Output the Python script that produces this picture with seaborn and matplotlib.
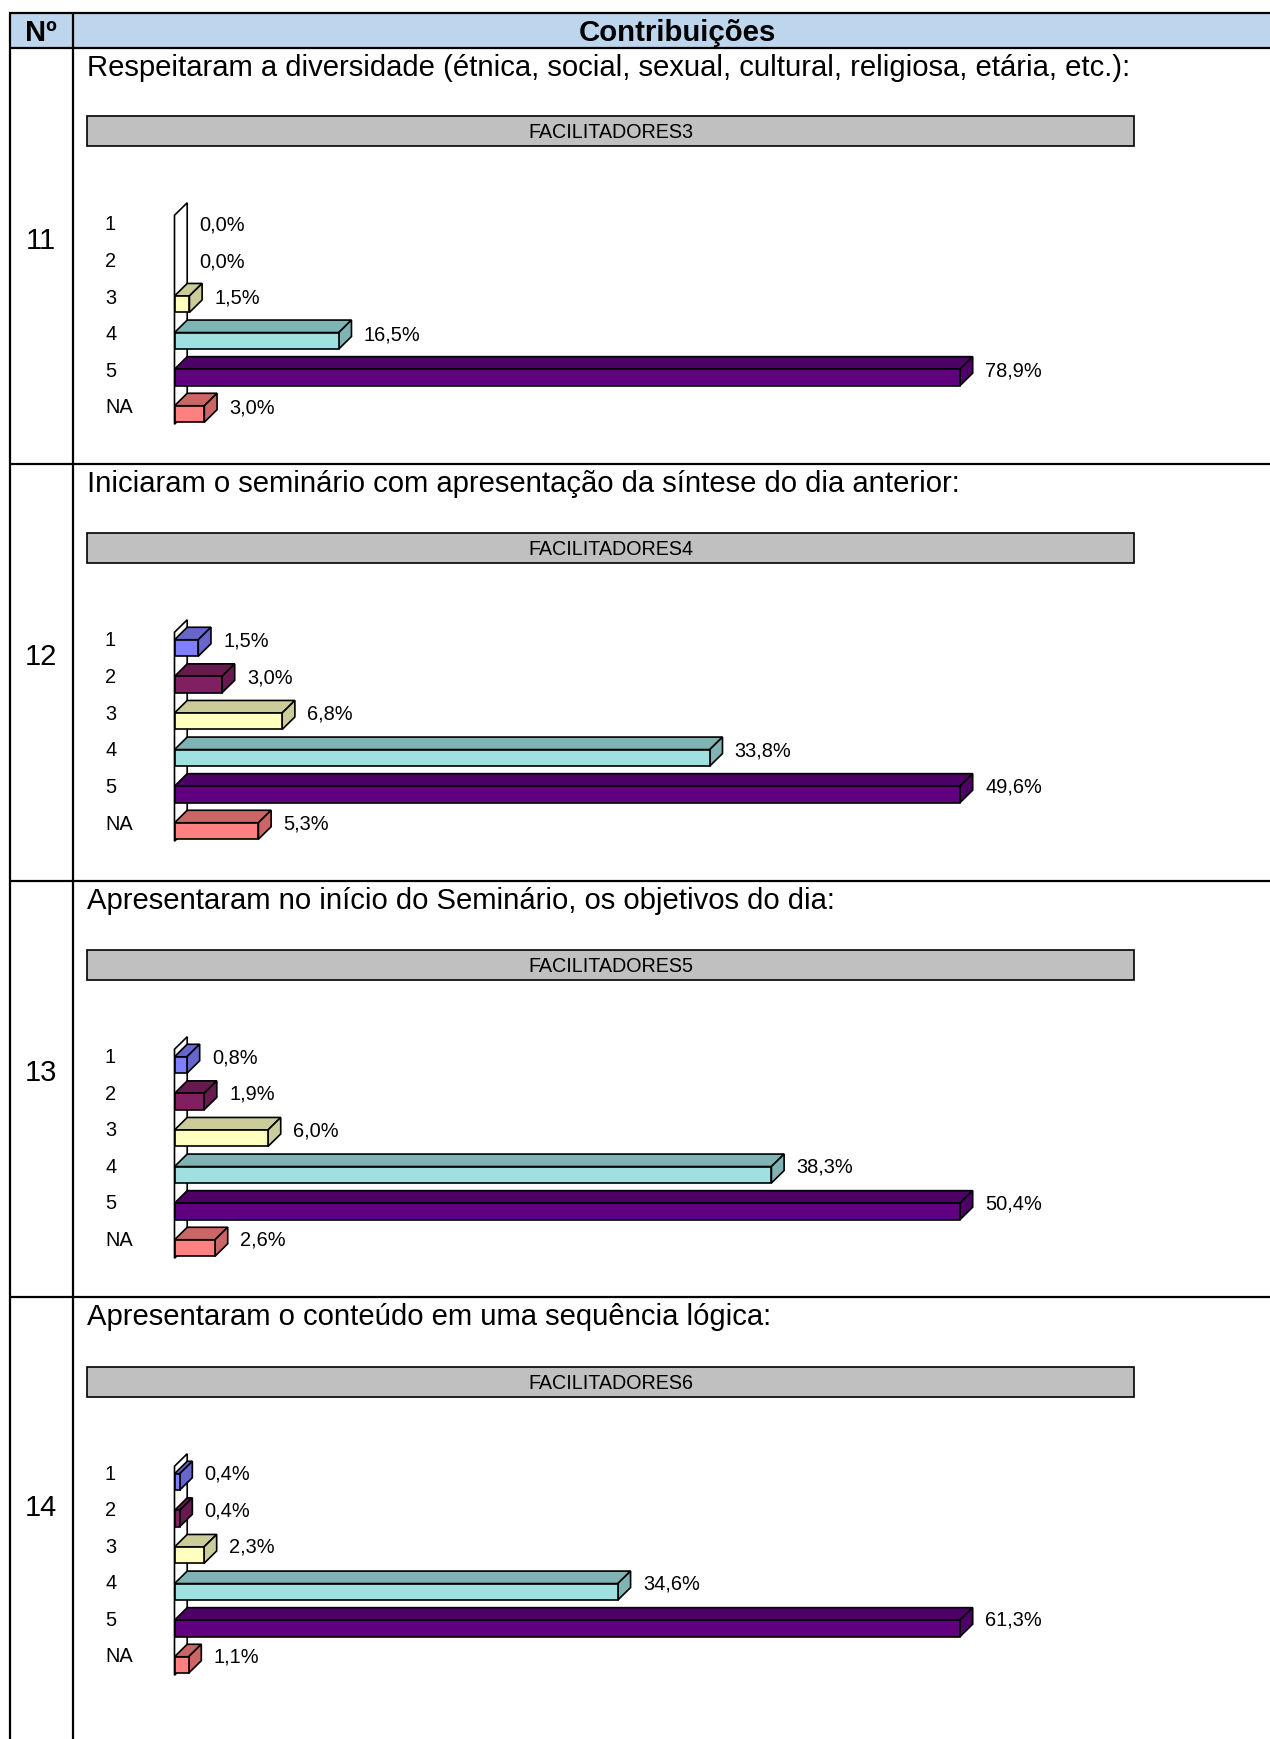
import pandas as pd
import matplotlib
matplotlib.use("Agg")
import matplotlib.pyplot as plt
from matplotlib.patches import Rectangle
import seaborn as sns

# data
categorias = ["1", "2", "3", "4", "5", "NA"]
linhas = ["11", "12", "13", "14"]
perguntas = [
    "Respeitaram a diversidade (étnica, social, sexual, cultural, religiosa, etária, etc.):",
    "Iniciaram o seminário com apresentação da síntese do dia anterior:",
    "Apresentaram no início do Seminário, os objetivos do dia:",
    "Apresentaram o conteúdo em uma sequência lógica:",
]
titulos = ["FACILITADORES3", "FACILITADORES4", "FACILITADORES5", "FACILITADORES6"]
valores_11 = [0.0, 0.0, 1.5, 16.5, 78.9, 3.0]
valores_12 = [1.5, 3.0, 6.8, 33.8, 49.6, 5.3]
valores_13 = [0.8, 1.9, 6.0, 38.3, 50.4, 2.6]
valores_14 = [0.4, 0.4, 2.3, 34.6, 61.3, 1.1]
valores = [valores_11, valores_12, valores_13, valores_14]

cores_frente = ["#8080FF", "#802060", "#FFFFC0", "#A0E0E0", "#600080", "#FF8080"]
cores_lado = ["#6666CC", "#661A4D", "#CCCC9A", "#80B3B3", "#4D0066", "#CC6666"]

W, H = 1270, 1740
sns.set_theme(style="white")
plt.rcParams["font.family"] = ["Liberation Sans", "DejaVu Sans"]

fig = plt.figure(figsize=(W / 100, H / 100), dpi=100, facecolor="white")

# table drawn on a full-figure axes in pixel coordinates
bg = fig.add_axes([0, 0, 1, 1])
bg.set_xlim(0, W)
bg.set_ylim(H, 0)
bg.set_axis_off()

bg.add_patch(Rectangle((9, 13), W, 36, fc="#BDD6EE", ec="none"))
for y in [13.5, 48.5, 465, 882, 1298]:
    bg.plot([9, W], [y, y], color="black", lw=1.6, solid_capstyle="butt")
for x in [9.5, 72.5]:
    bg.plot([x, x], [13, H], color="black", lw=1.6, solid_capstyle="butt")

bg.text(41, 33, "Nº", ha="center", va="center", fontsize=21, fontweight="bold", color="black")
bg.text(677.5, 33, "Contribuições", ha="center", va="center", fontsize=21.2, fontweight="bold", color="black")

desloc = 417
y_linhas = [241, 657, 1073, 1508]
y_perguntas = [68.5, 484.5, 901, 1317]
y_rotulos = [7, 8, 8.5, 9]
for i in range(4):
    off = i * desloc
    bg.text(41, y_linhas[i], linhas[i], ha="center", va="center", fontsize=21, color="black")
    bg.text(87, y_perguntas[i], perguntas[i], ha="left", va="center", fontsize=21.1, color="black")
    bg.add_patch(Rectangle((87, 117 + off), 1047, 29.5, fc="#C0C0C0", ec="black", lw=1.2))
    bg.text(610.5, 133 + off, titulos[i], ha="center", va="center", fontsize=14.2, color="black")

# bar chart geometry, in pixels
x0, comp = 174.5, 785.5
passo = 36.6
topo = 213.7
prof_x, prof_y = 12.7, 12.5
lw = 1.2

for i, vals in enumerate(valores):
    off = i * desloc
    df = pd.DataFrame({"resposta": categorias, "pct": vals})
    ax = fig.add_axes([x0 / W, 1 - (topo + off + 6 * passo) / H, comp / W, 6 * passo / H])
    sns.barplot(
        data=df, y="resposta", x="pct", hue="resposta", order=categorias, hue_order=categorias,
        palette=cores_frente, saturation=1, width=0.45, edgecolor="black", linewidth=lw, legend=False, ax=ax,
    )
    xmax = max(vals)
    ax.set_xlim(0, xmax)
    ax.set_ylim(5.5, -0.5)
    ax.set_axis_off()

    px = xmax / comp
    py = 1 / passo
    dx = prof_x * px
    dy = prof_y * py
    barras = sorted(ax.patches, key=lambda p: p.get_y())

    # back wall of the 3d chart
    w_top = barras[0].get_y() - 7.5 * py
    w_bot = barras[-1].get_y() + barras[-1].get_height() + 2 * py
    ax.fill([0, dx, dx, 0], [w_top, w_top - dy, w_bot - dy, w_bot], fc="white", ec="black", lw=lw,
            clip_on=False, zorder=0.5)

    for j, b in enumerate(barras):
        b.set_clip_on(False)
        b.set_zorder(3)
        v, y1 = b.get_width(), b.get_y()
        y2 = y1 + b.get_height()
        if v > 0:
            ax.fill([0, dx, v + dx, v], [y1, y1 - dy, y1 - dy, y1], fc=cores_lado[j], ec="black", lw=lw,
                    clip_on=False, zorder=2)
            ax.fill([v, v + dx, v + dx, v], [y1, y1 - dy, y2 - dy, y2], fc=cores_lado[j], ec="black", lw=lw,
                    clip_on=False, zorder=2)
        else:
            b.set_visible(False)
        ax.annotate(f"{vals[j]:.1f}%".replace(".", ","), xy=(v, j), xycoords="data",
                    xytext=(25, y_rotulos[i]), textcoords="offset pixels", ha="left", va="center",
                    fontsize=14.4, color="black", annotation_clip=False)
        ax.annotate(categorias[j], xy=(0, j), xycoords="data",
                    xytext=(105 - x0, y_rotulos[i]), textcoords="offset pixels", ha="left", va="center",
                    fontsize=14.4, color="black", annotation_clip=False)

fig.savefig("out.png", dpi=100)
plt.close(fig)
